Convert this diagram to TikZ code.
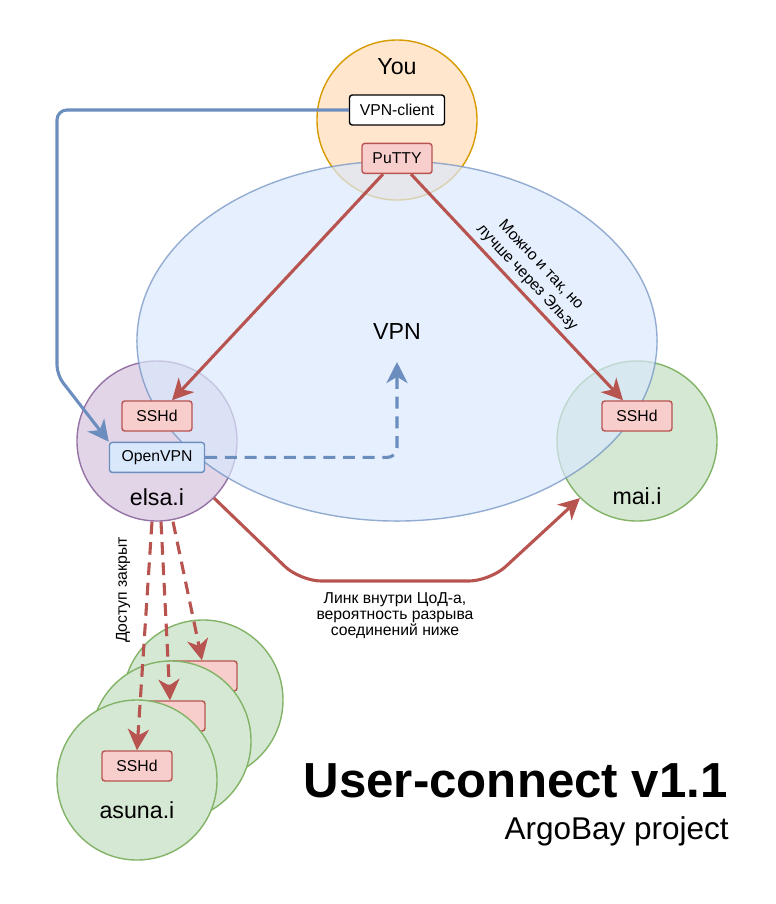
\documentclass[tikz,border=0pt]{standalone}
\usepackage{fontspec}
\setmainfont{Liberation Sans}
\usepackage{xcolor}
\usepackage{tikz}
\usetikzlibrary{shapes,arrows.meta}
\usetikzlibrary{positioning}

\definecolor{redfill}{HTML}{F8CECC}
\definecolor{redline}{HTML}{B85450}
\definecolor{bluefill}{HTML}{DAE8FC}
\definecolor{blueline}{HTML}{6C8EBF}
\definecolor{greenfill}{HTML}{D5E8D4}
\definecolor{greenline}{HTML}{82B366}
\definecolor{purplefill}{HTML}{E1D5E7}
\definecolor{purpleline}{HTML}{9673A6}
\definecolor{orangefill}{HTML}{FFE6CC}
\definecolor{orangeline}{HTML}{D79B00}

\newcommand{\hostfont}{\fontsize{16.5}{19}\selectfont}
\newcommand{\boxfont}{\fontsize{11.2}{13}\selectfont}
\newcommand{\notefont}{\fontsize{11.2}{11.4}\selectfont}

\tikzstyle{host} = [circle, line width=1pt, minimum size=4cm, inner sep=0pt]
\tikzstyle{svc} = [rectangle, draw=redline, fill=redfill, line width=1pt,
    rounded corners=2pt, minimum width=1.75cm, minimum height=0.75cm, inner sep=0pt, font=\boxfont]
\tikzstyle{svc_blue} = [svc, draw=blueline, fill=bluefill, minimum width=2.375cm]
\tikzstyle{svc_white} = [svc, draw=black, fill=white, minimum width=2.375cm]
\tikzstyle{line_red} = [draw=redline, line width=2.2pt, -{Stealth[length=15pt,width=15pt,inset=4.5pt]}]
\tikzstyle{dash_red} = [line_red, dash pattern=on 9pt off 5.5pt]
\tikzstyle{line_blue} = [draw=blueline, line width=2.2pt, rounded corners=7pt, -{Stealth[length=15pt,width=15pt,inset=4.5pt]}]
\tikzstyle{dash_blue} = [line_blue, dash pattern=on 8.5pt off 5.5pt]

\begin{document}
\begin{tikzpicture}[x=0.025cm, y=-0.025cm]
    \useasboundingbox (0,0) rectangle (776,904);
    % Place nodes
    \node [host, draw=orangeline, fill=orangefill] (you) at (397,120) {};
    \node [host, draw=purpleline, fill=purplefill] (elsa) at (157,441) {};
    \node [host, draw=greenline, fill=greenfill] (mai) at (637,441) {};
    \node [ellipse, draw=blueline, fill=bluefill, line width=1pt, opacity=0.7,
        minimum width=13cm, minimum height=9cm, inner sep=0pt] (vpn) at (397,341) {};
    \node [font=\hostfont] (vpnlbl) at (397,332) {VPN};
    \node [font=\hostfont] (youlbl) at (397,67) {You};
    \node [svc_white] (vpncl) at (397,110) {VPN-client};
    \node [svc, below=0.425cm of vpncl] (putty) {PuTTY};
    \node [svc] (essh) at (157,416) {SSHd};
    \node [svc_blue, below=0.25cm of essh] (ovpn) {OpenVPN};
    \node [font=\hostfont] (elsalbl) at (157,497) {elsa.i};
    \node [svc] (mssh) at (637,416) {SSHd};
    \node [font=\hostfont] (mailbl) at (637,496) {mai.i};
    \coordinate (vpnpt) at (397,362);

    % asuna stack
    \node [host, draw=greenline, fill=greenfill] (asuna3) at (203,700) {};
    \node [svc] (assh3) at (202,676) {};
    \node [host, draw=greenline, fill=greenfill] (asuna2) at (171,741) {};
    \node [svc] (assh2) at (170,716) {};
    \node [host, draw=greenline, fill=greenfill] (asuna1) at (137,780) {};
    \node [svc] (assh1) at (137,766) {SSHd};
    \node [font=\hostfont] (asunalbl) at (137,810) {asuna.i};

    \node [font=\notefont, rotate=90] (closed) at (123,590) {Доступ закрыт};
    \node [anchor=base east, inner sep=0pt, font=\fontsize{35}{40}\selectfont\bfseries] (title) at (728,797) {User-connect v1.1};
    \node [anchor=base east, inner sep=0pt, font=\fontsize{22.4}{26}\selectfont] (project) at (729,839) {ArgoBay project};

    % Draw edges
    \path [line_blue] (vpncl.west) -- (57,110) -- (57,375) -- (ovpn.north west);
    \path [dash_blue] (ovpn.east) -| (vpnpt);
    \path [line_red] ([xshift=-0.35cm]putty.south) -- ([xshift=0.375cm]essh.north);
    \path [line_red] ([xshift=0.35cm]putty.south) -- node [sloped, above, font=\fontsize{11.2}{13.5}\selectfont, align=center, text=black]
        {Можно и так, но\\лучше через Эльзу} ([xshift=-0.35cm]mssh.north);
    \path [line_red, rounded corners=15pt] (elsa.south east) -- (300,581)
        -- node [below=4pt, font=\notefont, align=center, text=black]
        {Линк внутри ЦоД-а,\\вероятность разрыва\\соединений ниже} (490,581) -- (mai.south west);
    \path [dash_red] ([xshift=-0.125cm]elsa.south) -- (assh1.north);
    \path [dash_red] ([xshift=0.1cm]elsa.south) -- (assh2.north);
    \path [dash_red] ([xshift=0.4cm]elsa.south) -- (assh3.north);

\end{tikzpicture}
\end{document}
